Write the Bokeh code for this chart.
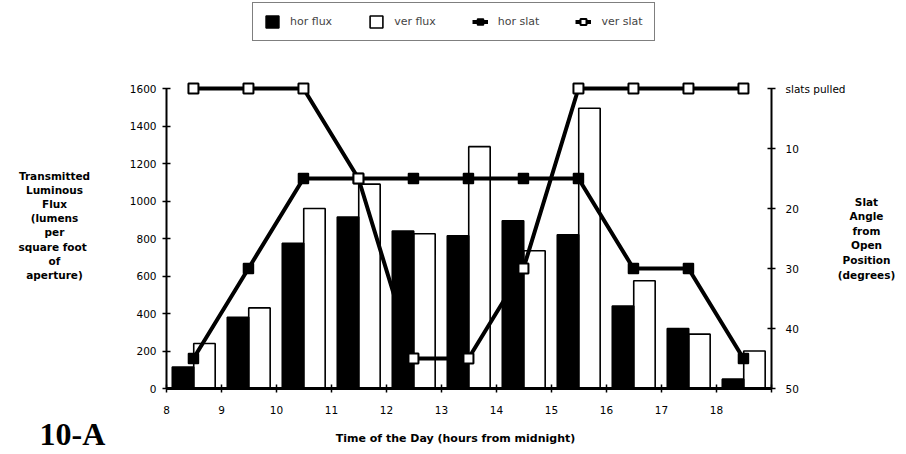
from bokeh.plotting import figure
from bokeh.models import (Range1d, LinearAxis, FixedTicker, Label, Legend,
                          LegendItem, ColumnDataSource)
from bokeh.transform import dodge
from bokeh.embed import file_html
from bokeh.resources import INLINE

# ---------------- data ----------------
hours = [8, 9, 10, 11, 12, 13, 14, 15, 16, 17, 18]
hour_ticks = [8, 9, 10, 11, 12, 13, 14, 15, 16, 17, 18, 19]
hor_flux = [115, 380, 775, 915, 840, 815, 895, 820, 440, 320, 50]
ver_flux = [240, 430, 960, 1090, 825, 1290, 735, 1495, 575, 290, 200]
hor_slat = [45, 30, 15, 15, 15, 15, 15, 15, 30, 30, 45]
ver_slat = [0, 0, 0, 15, 45, 45, 30, 0, 0, 0, 0]
flux_ticks = [0, 200, 400, 600, 800, 1000, 1200, 1400, 1600]
angle_ticks = [0, 10, 20, 30, 40, 50]
angle_top_label = "slats pulled"

left_title = ["Transmitted", "Luminous", "Flux", "(lumens", "per",
              "square  foot", "of", "aperture)"]
right_title = ["Slat", "Angle", "from", "Open", "Position", "(degrees)"]
x_title = "Time of the Day (hours from midnight)"
fig_tag = "10-A"

# ---------------- layout helpers (pixel -> data) ----------------
W, H = 906, 454
FL, FR, FT, FB = 166, 771, 88, 388          # plotting area of the original chart
def X(px):
    return 8 + (px - FL) * 11 / (FR - FL)
def Y(py):
    return (FB - py) * 1600 / (FB - FT)
def A(py):
    return (py - FT) * 50 / (FB - FT)

SANS = "DejaVu Sans"

p = figure(width=W, height=H,
           x_range=Range1d(X(0), X(W)), y_range=Range1d(Y(H), Y(0)),
           output_backend="svg", toolbar_location=None,
           min_border=0, min_border_left=0, min_border_right=0,
           min_border_top=0, min_border_bottom=0)
p.outline_line_color = None
p.xgrid.visible = False
p.ygrid.visible = False
p.background_fill_color = "white"
p.border_fill_color = "white"

p.extra_y_ranges = {"ang": Range1d(A(H), A(0))}

src = ColumnDataSource(dict(hour=hours, hor_flux=hor_flux, ver_flux=ver_flux,
                            hor_slat=hor_slat, ver_slat=ver_slat))

# white bars (below lines)
r_ver = p.vbar(x=dodge("hour", 0.69), top="ver_flux", bottom=0, width=0.39, source=src,
               fill_color="white", line_color="black", line_width=1.6)
# slat lines
l_hor = p.line(x=dodge("hour", 0.49), y="hor_slat", source=src, y_range_name="ang",
               line_color="black", line_width=4)
l_ver = p.line(x=dodge("hour", 0.49), y="ver_slat", source=src, y_range_name="ang",
               line_color="black", line_width=4)
# black bars (over lines)
r_hor = p.vbar(x=dodge("hour", 0.30), top="hor_flux", bottom=0, width=0.39, source=src,
               fill_color="black", line_color="black", line_width=1.6)
# markers on top
m_hor = p.scatter(x=dodge("hour", 0.49), y="hor_slat", source=src, y_range_name="ang",
                  marker="square", size=10, fill_color="black", line_color="black",
                  line_width=1.5)
m_ver = p.scatter(x=dodge("hour", 0.49), y="ver_slat", source=src, y_range_name="ang",
                  marker="square", size=10, fill_color="white", line_color="black",
                  line_width=2)

# ---------------- axes ----------------
def style_axis(ax):
    ax.axis_line_color = "black"
    ax.axis_line_width = 2
    ax.major_tick_line_color = "black"
    ax.major_tick_line_width = 1.5
    ax.major_tick_in = 4
    ax.major_tick_out = 4
    ax.minor_tick_line_color = None
    ax.major_label_text_font = SANS
    ax.major_label_text_font_size = "10.5px"
    ax.major_label_text_color = "black"

ya = p.yaxis[0]
ya.ticker = FixedTicker(ticks=flux_ticks)
ya.fixed_location = 8
ya.bounds = (0, 1600)
style_axis(ya)
ya.major_label_standoff = 6

xa = p.xaxis[0]
xa.ticker = FixedTicker(ticks=hour_ticks)
xa.major_label_overrides = {19: ""}
xa.fixed_location = 0
xa.bounds = (8, 19)
style_axis(xa)
xa.axis_line_width = 3
xa.major_label_standoff = 13

ra = LinearAxis(y_range_name="ang", ticker=FixedTicker(ticks=angle_ticks))
style_axis(ra)
ra.fixed_location = 19
ra.bounds = (0, 50)
ra.major_label_overrides = {0: angle_top_label}
ra.major_label_standoff = 10
p.add_layout(ra, "right")

# ---------------- titles ----------------
for i, t in enumerate(left_title):
    p.add_layout(Label(x=X(54), y=Y(175 + i * 14.2), text=t, text_align="center",
                       text_baseline="middle", text_font=SANS, text_font_style="bold",
                       text_font_size="10.5px", text_color="black"))
for i, t in enumerate(right_title):
    p.add_layout(Label(x=X(866), y=Y(201 + i * 14.6), text=t, text_align="center",
                       text_baseline="middle", text_font=SANS, text_font_style="bold",
                       text_font_size="10.5px", text_color="black"))
p.add_layout(Label(x=X(455), y=Y(438), text=x_title, text_align="center",
                   text_baseline="middle", text_font=SANS, text_font_style="bold",
                   text_font_size="11px", text_color="black"))
p.add_layout(Label(x=X(72), y=Y(433), text=fig_tag, text_align="center",
                   text_baseline="middle", text_font="Liberation Serif",
                   text_font_style="bold", text_font_size="32px", text_color="black"))

# ---------------- legend ----------------
legend = Legend(items=[
    LegendItem(label="hor flux", renderers=[r_hor]),
    LegendItem(label="ver flux", renderers=[r_ver]),
    LegendItem(label="hor slat", renderers=[l_hor, m_hor]),
    LegendItem(label="ver slat", renderers=[l_ver, m_ver]),
], orientation="horizontal", location=(252, H - 41))
legend.border_line_color = "black"
legend.border_line_width = 1.5
legend.background_fill_color = "white"
legend.background_fill_alpha = 1
legend.label_text_font = SANS
legend.label_text_font_size = "11px"
legend.glyph_width = 16
legend.glyph_height = 15
legend.label_standoff = 10
legend.spacing = 36
legend.padding = 11
legend.margin = 0
p.add_layout(legend, "center")

open("out.html", "w").write(file_html(p, INLINE))
